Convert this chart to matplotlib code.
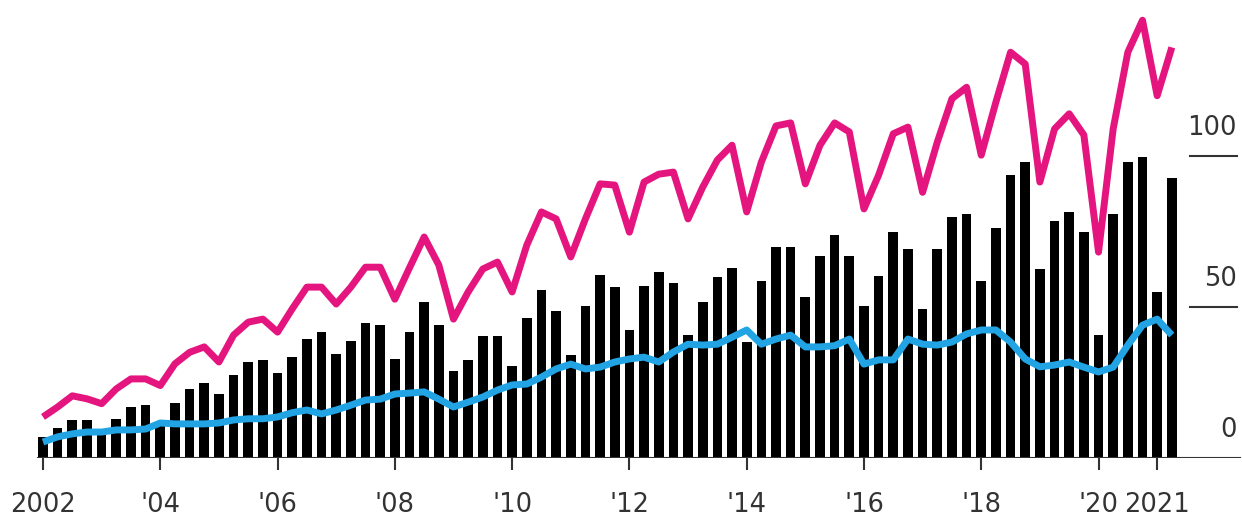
import numpy as np
import matplotlib
matplotlib.use("Agg")
import matplotlib.pyplot as plt
import matplotlib.transforms as mtransforms

# quarterly values, 2002 Q1 .. 2021 Q2
bars = [7, 10, 12.6, 12.6,
        7.8, 13, 17, 17.5,
        11.8, 18.1, 22.8, 25,
        21.3, 27.4, 31.8, 32.5,
        28, 33.4, 39.5, 41.7,
        34.4, 38.7, 44.8, 44.1,
        32.7, 41.7, 51.7, 44,
        28.7, 32.5, 40.4, 40.4,
        30.4, 46.4, 55.5, 48.6,
        34.2, 50.2, 60.7, 56.8,
        42.5, 57, 61.6, 57.8,
        40.9, 51.7, 60, 63,
        38.5, 58.6, 70, 70,
        53.3, 67, 73.8, 66.9,
        50.3, 60.3, 74.8, 69.2,
        49.4, 69.2, 79.8, 80.8,
        58.6, 76.2, 93.7, 98,
        62.6, 78.5, 81.5, 74.8,
        40.7, 80.8, 98, 99.7,
        55, 92.7]

pink = [13.6, 16.9, 20.6, 19.6,
        18, 22.9, 26.2, 26.2,
        24, 31.2, 35, 36.8,
        31.8, 40.7, 45, 46,
        41.7, 49.4, 56.6, 56.6,
        51, 56.6, 63.2, 63.2,
        52.6, 63, 73.2, 63.9,
        46, 55, 62.6, 64.9,
        55, 70.5, 81.5, 79.2,
        66.6, 79.2, 90.8, 90.4,
        74.8, 91.4, 94, 94.7,
        79.2, 89.7, 98.7, 103.6,
        81.5, 98, 110, 111,
        90.8, 103.6, 111, 108,
        82.5, 93.7, 107.4, 109.6,
        88, 104.6, 119, 122.8,
        100.3, 117.9, 134.4, 130.5,
        91.4, 109, 114, 107,
        68.2, 109, 134.4, 145,
        120, 136]

blue = [5.3, 7, 8, 8.6,
        8.6, 9.3, 9.3, 9.6,
        11.6, 11.3, 11.3, 11.3,
        11.6, 12.6, 13, 13,
        13.6, 15, 15.9, 14.6,
        15.9, 17.5, 19.2, 19.5,
        21.2, 21.5, 21.9, 19.5,
        16.9, 18.5, 20.2, 22.5,
        24.2, 24.5, 26.8, 29.5,
        31.1, 29.5, 30.1, 31.8,
        32.8, 33.4, 31.8, 35.1,
        37.7, 37.4, 37.7, 40,
        42.4, 37.7, 39.4, 40.7,
        36.8, 36.8, 37.2, 39.4,
        31.1, 32.5, 32.5, 39.4,
        37.7, 37.4, 38.4, 41.1,
        42.4, 42.4, 38.4, 32.8,
        30.2, 30.8, 31.8, 30.1,
        28.5, 30.1, 37.4, 44,
        46, 40.7]

start_year = 2002
tick_years = [2002, 2004, 2006, 2008, 2010, 2012, 2014, 2016, 2018, 2020, 2021]
tick_labels = ["2002", "'04", "'06", "'08", "'10", "'12", "'14", "'16", "'18", "'20", "2021"]
y_levels = [0, 50, 100]

x = start_year + np.arange(len(bars)) / 4.0

fig = plt.figure(figsize=(12.42, 5.18), dpi=100)
ax = fig.add_axes([0, 60 / 518, 1, 458 / 518])

ax.bar(x, bars, width=0.165, color="black", zorder=2)
ax.plot(x, blue, color="#22a4e4", lw=5, solid_joinstyle="round",
        solid_capstyle="butt", zorder=3)
ax.plot(x, pink, color="#e5157f", lw=5, solid_joinstyle="round",
        solid_capstyle="butt", zorder=4)

ax.set_xlim(2002 - 43 / 58.64, 2002 + 1199 / 58.64)
ax.set_ylim(0, 151.7)

for s in ax.spines.values():
    s.set_visible(False)
ax.set_yticks([])

ax.set_xticks(tick_years)
ax.set_xticklabels(tick_labels, fontsize=18.5, color="#333333")
ax.tick_params(axis="x", direction="out", length=8.5, width=1.5,
               color="#333333", pad=16)

# baseline and the short right-hand guide lines
ax.axhline(0, xmin=38 / 1242, xmax=1240 / 1242, color="#333333", lw=1.5, zorder=5)
trans = mtransforms.blended_transform_factory(ax.transAxes, ax.transData)
for lev in y_levels:
    if lev > 0:
        ax.axhline(lev, xmin=1190 / 1242, xmax=1237 / 1242, color="#333333", lw=1.5)
    ax.text(1237 / 1242, lev + 7, str(lev), transform=trans, ha="right",
            va="baseline", fontsize=18.5, color="#333333")

fig.savefig("out.png", dpi=100)
